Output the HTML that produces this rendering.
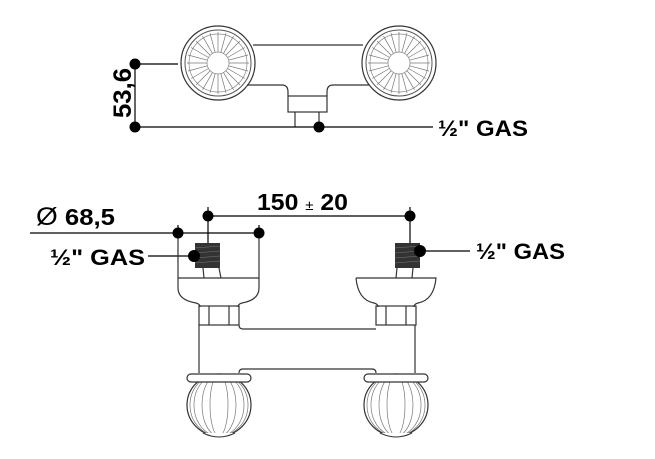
<!DOCTYPE html>
<html><head><style>body{margin:0;background:#fff}svg{display:block}text{font-family:"Liberation Sans",sans-serif;font-weight:bold;fill:#000}</style></head><body>
<svg width="655" height="459" viewBox="0 0 655 459" xmlns="http://www.w3.org/2000/svg">
<defs>
<g id="flower">
<circle r="33" fill="none" stroke="#555" stroke-width="1"/>
<circle r="29" fill="none" stroke="#888" stroke-width="0.7"/>
<circle r="11" fill="#fff" stroke="#888" stroke-width="0.7"/>
<g stroke="#777" stroke-width="0.7">
<line x1="11" y1="0" x2="31" y2="0" transform="rotate(0)"/><line x1="11" y1="0" x2="31" y2="0" transform="rotate(15)"/><line x1="11" y1="0" x2="31" y2="0" transform="rotate(30)"/><line x1="11" y1="0" x2="31" y2="0" transform="rotate(45)"/><line x1="11" y1="0" x2="31" y2="0" transform="rotate(60)"/><line x1="11" y1="0" x2="31" y2="0" transform="rotate(75)"/><line x1="11" y1="0" x2="31" y2="0" transform="rotate(90)"/><line x1="11" y1="0" x2="31" y2="0" transform="rotate(105)"/><line x1="11" y1="0" x2="31" y2="0" transform="rotate(120)"/><line x1="11" y1="0" x2="31" y2="0" transform="rotate(135)"/><line x1="11" y1="0" x2="31" y2="0" transform="rotate(150)"/><line x1="11" y1="0" x2="31" y2="0" transform="rotate(165)"/><line x1="11" y1="0" x2="31" y2="0" transform="rotate(180)"/><line x1="11" y1="0" x2="31" y2="0" transform="rotate(195)"/><line x1="11" y1="0" x2="31" y2="0" transform="rotate(210)"/><line x1="11" y1="0" x2="31" y2="0" transform="rotate(225)"/><line x1="11" y1="0" x2="31" y2="0" transform="rotate(240)"/><line x1="11" y1="0" x2="31" y2="0" transform="rotate(255)"/><line x1="11" y1="0" x2="31" y2="0" transform="rotate(270)"/><line x1="11" y1="0" x2="31" y2="0" transform="rotate(285)"/><line x1="11" y1="0" x2="31" y2="0" transform="rotate(300)"/><line x1="11" y1="0" x2="31" y2="0" transform="rotate(315)"/><line x1="11" y1="0" x2="31" y2="0" transform="rotate(330)"/><line x1="11" y1="0" x2="31" y2="0" transform="rotate(345)"/>
</g></g>
<g id="globe">
<ellipse cx="0" cy="0" rx="32" ry="31" fill="none" stroke="#333" stroke-width="1.2"/>
<g fill="none" stroke="#777" stroke-width="0.7">
<ellipse rx="25" ry="31"/><ellipse rx="17" ry="31"/><ellipse rx="9" ry="31"/>
<ellipse rx="29" ry="31"/>
</g>
<rect x="-32" y="-31" width="64" height="8" rx="4" fill="#fff" stroke="#333" stroke-width="1.2"/>
<path d="M-16 28 Q0 36 16 28" fill="#fff" stroke="#333"/>
</g>
</defs>
<g stroke="#333" fill="none" stroke-width="1.2">
<circle cx="218" cy="63" r="37"/><circle cx="399" cy="63" r="37"/>
<line x1="253" y1="45" x2="363" y2="45"/>
<path d="M247 85 H282 Q288 85 288 92 V96 M327 96 V92 Q327 85 333 85 H369"/>
<rect x="288" y="96" width="39" height="16"/>
<line x1="295" y1="112" x2="295" y2="127"/><line x1="319" y1="112" x2="319" y2="127"/>
</g>
<use href="#flower" x="218" y="63"/><use href="#flower" x="399" y="63"/>
<g stroke="#000" stroke-width="1.2">
<line x1="135" y1="64" x2="178" y2="64"/><line x1="135" y1="64" x2="135" y2="127"/><line x1="135" y1="127" x2="433" y2="127"/>
</g>
<g fill="#000"><circle cx="135" cy="64" r="5.5"/><circle cx="135" cy="127" r="5.5"/><circle cx="319" cy="127" r="5.5"/></g>
<text x="0" y="0" font-size="25" textLength="50" lengthAdjust="spacingAndGlyphs" transform="translate(131,118) rotate(-90)">53,6</text>
<text x="438" y="136" font-size="22" textLength="90" lengthAdjust="spacingAndGlyphs">½" GAS</text>
<g stroke="#000" stroke-width="1.2">
<line x1="30" y1="233" x2="262" y2="233"/>
<line x1="208" y1="216" x2="410" y2="216"/>
<line x1="208" y1="207" x2="208" y2="245"/><line x1="410" y1="207" x2="410" y2="245"/>
<line x1="178" y1="225" x2="178" y2="233"/><line x1="259" y1="225" x2="259" y2="233"/>
<line x1="148" y1="256" x2="194" y2="256"/><line x1="420" y1="251" x2="470" y2="251"/>
</g>
<g stroke="#333" stroke-width="1.2" fill="none">
<path d="M178 233 V288 Q178 300 196 303 Q200 304 200 307"/>
<path d="M259 233 V288 Q259 300 242 303 Q238 304 238 307"/>
<line x1="178" y1="278" x2="259" y2="278"/>
<path d="M356 278 H436 Q434 300 418 303 Q414 304 414 307 M356 278 Q358 300 374 303 Q378 304 378 307"/>
<line x1="203" y1="268" x2="204" y2="278"/><line x1="219" y1="268" x2="221" y2="278"/>
<line x1="397" y1="268" x2="396" y2="278"/><line x1="413" y1="268" x2="412" y2="278"/>
<rect x="199" y="306" width="40" height="19"/><line x1="209" y1="306" x2="209" y2="325"/><line x1="229" y1="306" x2="229" y2="325"/>
<rect x="376" y="306" width="40" height="19"/><line x1="386" y1="306" x2="386" y2="325"/><line x1="406" y1="306" x2="406" y2="325"/>
<line x1="199" y1="325" x2="199" y2="373"/><line x1="415" y1="325" x2="415" y2="373"/>
<path d="M239 325 Q239 329 243 329 H376"/>
<path d="M239 373 Q239 369 243 369 H372 Q376 369 376 373"/>
</g>
<rect x="195" y="243" width="25" height="25" fill="#333"/>
<rect x="395" y="243" width="25" height="25" fill="#333"/>
<g stroke="#777" stroke-width="0.6"><line x1="195" y1="248" x2="220" y2="246"/><line x1="195" y1="253" x2="220" y2="251"/><line x1="195" y1="258" x2="220" y2="256"/><line x1="195" y1="263" x2="220" y2="261"/><line x1="395" y1="248" x2="420" y2="246"/><line x1="395" y1="253" x2="420" y2="251"/><line x1="395" y1="258" x2="420" y2="256"/><line x1="395" y1="263" x2="420" y2="261"/></g>
<use href="#globe" x="219" y="405"/><use href="#globe" x="396" y="405"/>
<g fill="#000"><circle cx="178" cy="233" r="5.5"/><circle cx="259" cy="233" r="5.5"/><circle cx="208" cy="216" r="5.5"/><circle cx="410" cy="216" r="5.5"/><circle cx="194" cy="256" r="6"/><circle cx="420" cy="251" r="6"/></g>
<text x="257" y="210" font-size="23" textLength="91" lengthAdjust="spacingAndGlyphs">150 <tspan font-size="14" font-weight="normal">±</tspan> 20</text>
<text x="36" y="225" font-size="23" textLength="79" lengthAdjust="spacingAndGlyphs"><tspan font-weight="normal" font-size="25">Ø</tspan>  68,5</text>
<text x="50" y="265" font-size="22" textLength="95" lengthAdjust="spacingAndGlyphs">½" GAS</text>
<text x="476" y="259" font-size="22" textLength="89" lengthAdjust="spacingAndGlyphs">½" GAS</text>
</svg>
</body></html>
